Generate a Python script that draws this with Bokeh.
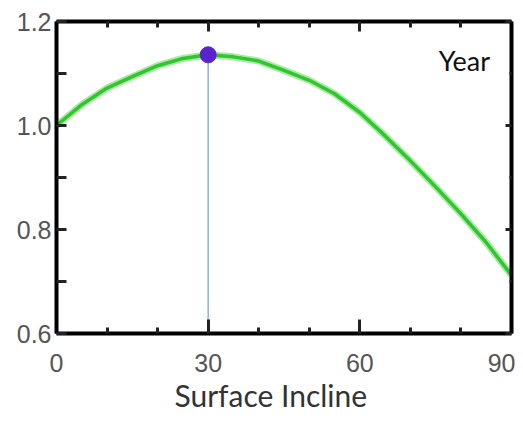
from bokeh.plotting import figure
from bokeh.models import LinearAxis, FixedTicker, Range1d, Label, Title
from bokeh.embed import file_html
from bokeh.resources import INLINE

incline = [0, 5, 10, 15, 20, 25, 30, 35, 40, 45, 50, 55, 60, 65, 70, 75, 80, 85, 90]
ratio = [1.000, 1.040, 1.072, 1.094, 1.115, 1.129, 1.136, 1.132, 1.124, 1.106, 1.087,
         1.061, 1.025, 0.980, 0.932, 0.882, 0.830, 0.775, 0.712]
peak_x = [30]
peak_y = [1.136]
x_ticks = [0, 30, 60, 90]
x_minor = [10, 20, 40, 50, 70, 80]
y_ticks = [0.6, 0.8, 1.0, 1.2]
y_minor = [0.7, 0.9, 1.1]
x_title = "Surface Incline"
note = "Year"

p = figure(width=515, height=415, output_backend="svg", toolbar_location=None,
           x_range=Range1d(0, 90), y_range=Range1d(0.6, 1.2),
           x_axis_location=None, y_axis_location=None,
           min_border_left=56, min_border_top=21, min_border_right=4, min_border_bottom=82)
p.grid.visible = False
p.outline_line_color = None
p.background_fill_color = "white"

tick_font = "Liberation Sans"

def style(ax, labels=True, tin=10, mtin=6):
    ax.axis_line_width = 4
    ax.axis_line_color = "black"
    ax.major_tick_line_width = 3
    ax.minor_tick_line_width = 3
    ax.major_tick_in = tin
    ax.major_tick_out = 0
    ax.minor_tick_in = mtin
    ax.minor_tick_out = 0
    ax.major_tick_line_color = "#222222"
    ax.minor_tick_line_color = "#222222"
    if labels:
        ax.major_label_text_font = tick_font
        ax.major_label_text_font_size = "25px"
        ax.major_label_text_color = "#555555"
    else:
        ax.major_label_overrides = {t: "" for t in ax.ticker.ticks}
        ax.major_label_standoff = 0

xb = LinearAxis(ticker=FixedTicker(ticks=x_ticks, minor_ticks=x_minor))
style(xb, tin=14, mtin=6)
xb.major_label_standoff = 20
p.add_layout(xb, "below")

p.add_layout(Title(text=x_title, align="left", offset=118, text_font="Lato",
                   text_font_size="30px", text_font_style="normal", text_color="#333333",
                   standoff=0), "below")

yl = LinearAxis(ticker=FixedTicker(ticks=y_ticks, minor_ticks=y_minor))
style(yl, tin=10, mtin=10)
yl.major_label_standoff = 5
yl.major_label_overrides = {0.6: "0.6", 0.8: "0.8", 1.0: "1.0", 1.2: "1.2"}
p.add_layout(yl, "left")

xt = LinearAxis(ticker=FixedTicker(ticks=x_ticks, minor_ticks=x_minor))
style(xt, labels=False, tin=10, mtin=6)
p.add_layout(xt, "above")

yr = LinearAxis(ticker=FixedTicker(ticks=y_ticks, minor_ticks=y_minor))
style(yr, labels=False, tin=6, mtin=2)
p.add_layout(yr, "right")

p.segment(x0=peak_x, y0=[y_ticks[0]], x1=peak_x, y1=peak_y, line_color="#8eaedc", line_width=1.5)
p.line(incline, ratio, line_color="#a6ec9e", line_width=7)
p.line(incline, ratio, line_color="#33c433", line_width=3.5)
p.scatter(peak_x, peak_y, size=16, color="#5b22d0")

p.add_layout(Label(x=75.6, y=1.125, text=note, text_font="Lato", text_font_size="27px",
                   text_color="#111111", text_baseline="middle"))

open("out.html", "w").write(file_html(p, INLINE))
